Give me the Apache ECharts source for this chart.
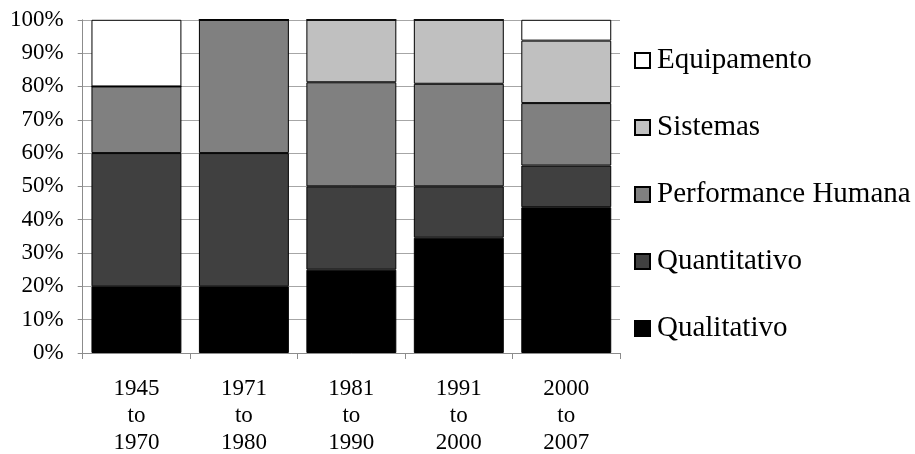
<!DOCTYPE html>
<html>
<head>
<meta charset="utf-8">
<script src="https://cdn.jsdelivr.net/npm/echarts@6/dist/echarts.min.js"></script>
<style>html,body{margin:0;padding:0;background:#fff}#c{width:915px;height:454px}</style>
</head>
<body>
<div id="c"></div>
<script>
var categories = ['1945\nto\n1970', '1971\nto\n1980', '1981\nto\n1990', '1991\nto\n2000', '2000\nto\n2007'];
var qualitativo = [20, 20, 25, 34.6, 43.75];
var quantitativo = [40, 40, 25, 15.4, 12.5];
var performanceHumana = [20, 40, 31.25, 30.8, 18.75];
var sistemas = [0, 0, 18.75, 19.2, 18.75];
var equipamento = [20, 0, 0, 0, 6.25];
var yTicks = [0, 10, 20, 30, 40, 50, 60, 70, 80, 90, 100];

var FONT = '"Liberation Serif", "Times New Roman", serif';
var names = ['Qualitativo', 'Quantitativo', 'Performance Humana', 'Sistemas', 'Equipamento'];
var colors = ['#000000', '#404040', '#808080', '#c0c0c0', '#ffffff'];
var datas = [qualitativo, quantitativo, performanceHumana, sistemas, equipamento];

var chart = echarts.init(document.getElementById('c'), null, {renderer: 'canvas'});
var series = names.map(function (n, i) {
  return {
    name: n, type: 'bar', stack: 'total', data: datas[i],
    barCategoryGap: '16.3%',
    itemStyle: {color: colors[i], borderColor: '#000', borderWidth: 1},
    emphasis: {disabled: true}
  };
});
chart.setOption({
  animation: false,
  backgroundColor: '#fff',
  grid: {left: 82.7, right: 295, top: 19.8, bottom: 101, containLabel: false, outerBoundsMode: 'none'},
  legend: {
    orient: 'vertical', left: 629, top: 40.5,
    data: names.slice().reverse(),
    itemWidth: 15, itemHeight: 15, itemGap: 37,
    icon: 'rect',
    textStyle: {fontFamily: FONT, fontSize: 29, color: '#000', lineHeight: 30, padding: [0, 0, 0, 2]}
  },
  xAxis: {
    type: 'category', data: categories,
    axisLine: {lineStyle: {color: '#8c8c8c', width: 1}},
    axisTick: {show: true, length: 6, lineStyle: {color: '#8c8c8c'}},
    axisLabel: {fontFamily: FONT, fontSize: 23, color: '#000', lineHeight: 27, margin: 22}
  },
  yAxis: {
    type: 'value', min: 0, max: 100, interval: 10,
    axisLine: {show: true, lineStyle: {color: '#8c8c8c', width: 1}},
    axisTick: {show: true, length: 5, lineStyle: {color: '#8c8c8c'}},
    splitLine: {lineStyle: {color: '#a6a6a6', width: 1}},
    axisLabel: {fontFamily: FONT, fontSize: 23, color: '#000', margin: 19,
      formatter: function (v) { return yTicks.indexOf(v) >= 0 ? v + '%' : ''; }}
  },
  series: series
});
</script>
</body>
</html>
